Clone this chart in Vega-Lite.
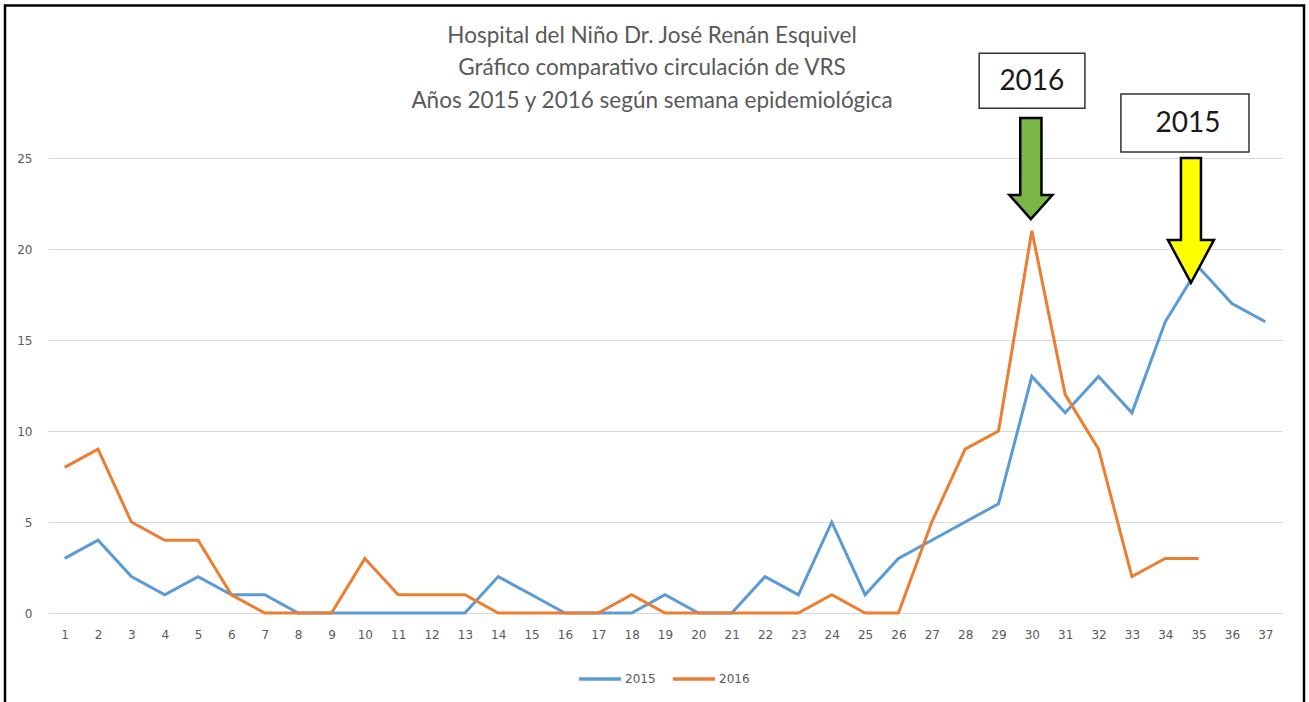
{
  "$schema": "https://vega.github.io/schema/vega-lite/v6.json",
  "width": 1234,
  "height": 455,
  "autosize": {"type": "none"},
  "padding": {"left": 48, "top": 158, "right": 27, "bottom": 89},
  "background": "white",
  "title": {
    "text": ["Hospital del Niño Dr. José Renán Esquivel", "Gráfico comparativo circulación de VRS", "Años 2015 y 2016 según semana epidemiológica"],
    "font": "Lato",
    "fontSize": 22.5,
    "fontWeight": "normal",
    "color": "#595959",
    "lineHeight": 32.5,
    "anchor": "middle",
    "frame": "group",
    "dx": -13,
    "offset": -108
  },
  "config": {
    "view": {"stroke": null},
    "axis": {"labelFont": "DejaVu Sans", "labelFontSize": 12, "labelColor": "#595959", "domain": false, "ticks": false},
    "axisX": {"labelOverlap": false, "labelFlush": false, "grid": false, "labelPadding": 16},
    "axisY": {"grid": true, "gridColor": "#d9d9d9", "gridWidth": 1, "labelPadding": 16}
  },
  "datasets": {
    "series": [
      {"semana": 1, "año": "2015", "casos": 3}, {"semana": 2, "año": "2015", "casos": 4}, {"semana": 3, "año": "2015", "casos": 2}, {"semana": 4, "año": "2015", "casos": 1}, {"semana": 5, "año": "2015", "casos": 2}, {"semana": 6, "año": "2015", "casos": 1}, {"semana": 7, "año": "2015", "casos": 1}, {"semana": 8, "año": "2015", "casos": 0}, {"semana": 9, "año": "2015", "casos": 0}, {"semana": 10, "año": "2015", "casos": 0}, {"semana": 11, "año": "2015", "casos": 0}, {"semana": 12, "año": "2015", "casos": 0}, {"semana": 13, "año": "2015", "casos": 0}, {"semana": 14, "año": "2015", "casos": 2}, {"semana": 15, "año": "2015", "casos": 1}, {"semana": 16, "año": "2015", "casos": 0}, {"semana": 17, "año": "2015", "casos": 0}, {"semana": 18, "año": "2015", "casos": 0}, {"semana": 19, "año": "2015", "casos": 1}, {"semana": 20, "año": "2015", "casos": 0}, {"semana": 21, "año": "2015", "casos": 0}, {"semana": 22, "año": "2015", "casos": 2}, {"semana": 23, "año": "2015", "casos": 1}, {"semana": 24, "año": "2015", "casos": 5}, {"semana": 25, "año": "2015", "casos": 1}, {"semana": 26, "año": "2015", "casos": 3}, {"semana": 27, "año": "2015", "casos": 4}, {"semana": 28, "año": "2015", "casos": 5}, {"semana": 29, "año": "2015", "casos": 6}, {"semana": 30, "año": "2015", "casos": 13}, {"semana": 31, "año": "2015", "casos": 11}, {"semana": 32, "año": "2015", "casos": 13}, {"semana": 33, "año": "2015", "casos": 11}, {"semana": 34, "año": "2015", "casos": 16}, {"semana": 35, "año": "2015", "casos": 19}, {"semana": 36, "año": "2015", "casos": 17}, {"semana": 37, "año": "2015", "casos": 16},
      {"semana": 1, "año": "2016", "casos": 8}, {"semana": 2, "año": "2016", "casos": 9}, {"semana": 3, "año": "2016", "casos": 5}, {"semana": 4, "año": "2016", "casos": 4}, {"semana": 5, "año": "2016", "casos": 4}, {"semana": 6, "año": "2016", "casos": 1}, {"semana": 7, "año": "2016", "casos": 0}, {"semana": 8, "año": "2016", "casos": 0}, {"semana": 9, "año": "2016", "casos": 0}, {"semana": 10, "año": "2016", "casos": 3}, {"semana": 11, "año": "2016", "casos": 1}, {"semana": 12, "año": "2016", "casos": 1}, {"semana": 13, "año": "2016", "casos": 1}, {"semana": 14, "año": "2016", "casos": 0}, {"semana": 15, "año": "2016", "casos": 0}, {"semana": 16, "año": "2016", "casos": 0}, {"semana": 17, "año": "2016", "casos": 0}, {"semana": 18, "año": "2016", "casos": 1}, {"semana": 19, "año": "2016", "casos": 0}, {"semana": 20, "año": "2016", "casos": 0}, {"semana": 21, "año": "2016", "casos": 0}, {"semana": 22, "año": "2016", "casos": 0}, {"semana": 23, "año": "2016", "casos": 0}, {"semana": 24, "año": "2016", "casos": 1}, {"semana": 25, "año": "2016", "casos": 0}, {"semana": 26, "año": "2016", "casos": 0}, {"semana": 27, "año": "2016", "casos": 5}, {"semana": 28, "año": "2016", "casos": 9}, {"semana": 29, "año": "2016", "casos": 10}, {"semana": 30, "año": "2016", "casos": 21}, {"semana": 31, "año": "2016", "casos": 12}, {"semana": 32, "año": "2016", "casos": 9}, {"semana": 33, "año": "2016", "casos": 2}, {"semana": 34, "año": "2016", "casos": 3}, {"semana": 35, "año": "2016", "casos": 3}
    ],
    "boxes": [
      {"label": "2016", "x1": 28.42, "x2": 31.59, "y1": 30.76, "y2": 27.74, "tx": 30.0, "ty": 29.17},
      {"label": "2015", "x1": 32.67, "x2": 36.51, "y1": 28.51, "y2": 25.33, "tx": 34.68, "ty": 26.86}
    ],
    "arrows": [
      {"label": "2016", "x": 29.97, "y": 24.42},
      {"label": "2015", "x": 34.77, "y": 21.57}
    ]
  },
  "layer": [
    {
      "data": {"name": "series"},
      "mark": {"type": "line", "strokeWidth": 3, "interpolate": "linear"},
      "encoding": {
        "x": {
          "field": "semana", "type": "quantitative", "title": null,
          "scale": {"domain": [0.5, 37.5], "nice": false, "zero": false},
          "axis": {"values": [1,2,3,4,5,6,7,8,9,10,11,12,13,14,15,16,17,18,19,20,21,22,23,24,25,26,27,28,29,30,31,32,33,34,35,36,37], "tickCount": 40, "format": "d", "labelOverlap": false}
        },
        "y": {
          "field": "casos", "type": "quantitative", "title": null,
          "scale": {"domain": [0, 25], "nice": false},
          "axis": {"values": [0, 5, 10, 15, 20, 25]}
        },
        "color": {
          "field": "año", "type": "nominal",
          "scale": {"domain": ["2015", "2016"], "range": ["#5B9BD5", "#ED7D31"]},
          "legend": {
            "title": null, "orient": "none", "direction": "horizontal",
            "legendX": 529, "legendY": 498, "padding": 0,
            "symbolType": "stroke", "symbolSize": 1764, "symbolStrokeWidth": 3.5,
            "labelFont": "DejaVu Sans", "labelFontSize": 12, "labelColor": "#595959",
            "labelOffset": 2, "columnPadding": 10
          }
        }
      }
    },
    {
      "data": {"name": "boxes"},
      "mark": {"type": "rect", "fill": "white", "stroke": "#333333", "strokeWidth": 1.5},
      "encoding": {
        "x": {"field": "x1", "type": "quantitative", "title": null},
        "x2": {"field": "x2"},
        "y": {"field": "y1", "type": "quantitative", "title": null},
        "y2": {"field": "y2"}
      }
    },
    {
      "data": {"name": "boxes"},
      "mark": {"type": "text", "font": "Lato", "fontSize": 28, "color": "#1a1a1a", "align": "center", "baseline": "middle"},
      "encoding": {
        "x": {"field": "tx", "type": "quantitative", "title": null},
        "y": {"field": "ty", "type": "quantitative", "title": null},
        "text": {"field": "label"}
      }
    },
    {
      "data": {"name": "arrows"},
      "transform": [{"filter": "datum.label === '2016'"}],
      "mark": {"type": "point", "filled": true, "fill": "#7AB648", "stroke": "#000000", "strokeWidth": 2.5, "opacity": 1, "size": 10201,
        "shape": "M -0.21 -1 L 0.21 -1 L 0.21 0.525 L 0.426 0.525 L 0 1 L -0.426 0.525 L -0.21 0.525 Z"},
      "encoding": {
        "x": {"field": "x", "type": "quantitative", "title": null},
        "y": {"field": "y", "type": "quantitative", "title": null}
      }
    },
    {
      "data": {"name": "arrows"},
      "transform": [{"filter": "datum.label === '2015'"}],
      "mark": {"type": "point", "filled": true, "fill": "#FFFF00", "stroke": "#000000", "strokeWidth": 2.5, "opacity": 1, "size": 15625,
        "shape": "M -0.16 -1 L 0.16 -1 L 0.16 0.312 L 0.368 0.312 L 0 1 L -0.368 0.312 L -0.16 0.312 Z"},
      "encoding": {
        "x": {"field": "x", "type": "quantitative", "title": null},
        "y": {"field": "y", "type": "quantitative", "title": null}
      }
    },
    {
      "data": {"values": [{}]},
      "mark": {"type": "rect", "fill": null, "stroke": "#000000", "strokeWidth": 2.5, "xOffset": -43, "x2Offset": 22, "yOffset": -152.5, "y2Offset": 100},
      "encoding": {
        "x": {"datum": 0.5, "type": "quantitative"},
        "x2": {"datum": 37.5},
        "y": {"datum": 25, "type": "quantitative"},
        "y2": {"datum": 0}
      }
    }
  ]
}
